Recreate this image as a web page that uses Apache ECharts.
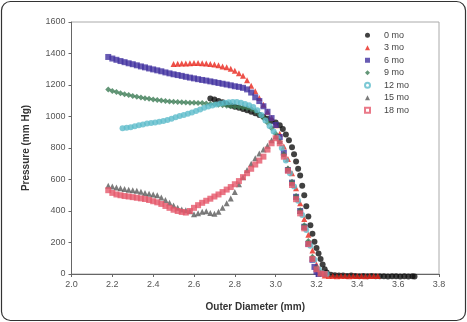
<!DOCTYPE html>
<html>
<head>
<meta charset="utf-8">
<script src="https://cdn.jsdelivr.net/npm/echarts@6/dist/echarts.min.js"></script>
<style>
  html, body { margin: 0; padding: 0; background: #fff; }
  #chart { width: 467px; height: 322px; }
</style>
</head>
<body>
<div id="chart"></div>
<script>
// axis ticks
const xTicks = [2.0, 2.2, 2.4, 2.6, 2.8, 3.0, 3.2, 3.4, 3.6, 3.8];
const yTicks = [0, 200, 400, 600, 800, 1000, 1200, 1400, 1600];

// [outer diameter (mm), pressure (mm Hg)]
const mo0 = [
  [2.68,1115],[2.70,1108],[2.72,1098],[2.74,1090],[2.76,1080],[2.78,1070],[2.80,1062],[2.82,1055],
  [2.84,1048],[2.86,1040],[2.88,1030],[2.90,1020],[2.92,1010],[2.94,998],[2.96,985],[2.98,972],
  [3.00,962],[3.02,945],[3.035,920],[3.05,885],[3.065,850],[3.08,805],[3.09,760],[3.10,715],
  [3.11,668],[3.12,625],[3.13,560],[3.14,500],[3.15,430],[3.16,365],[3.17,310],[3.18,255],
  [3.19,205],[3.20,165],[3.21,130],[3.22,95],[3.23,60],[3.24,30],[3.25,10],[3.27,-5],
  [3.29,-8],[3.31,-10],[3.33,-10],[3.35,-12],[3.37,-10],[3.39,-12],[3.41,-14],[3.43,-12],
  [3.45,-14],[3.47,-12],[3.49,-14],[3.51,-15],[3.53,-14],[3.55,-16],[3.57,-15],[3.59,-14],
  [3.61,-16],[3.63,-15],[3.65,-16],[3.67,-15],[3.68,-16]
];
const mo3 = [
  [2.50,1333],[2.52,1335],[2.54,1336],[2.56,1337],[2.58,1338],[2.60,1339],[2.62,1340],[2.64,1338],
  [2.66,1336],[2.68,1333],[2.70,1330],[2.72,1325],[2.74,1318],[2.76,1312],[2.78,1303],[2.80,1290],
  [2.82,1275],[2.84,1258],[2.86,1230],[2.88,1195],[2.90,1160],[2.92,1118],[2.94,1075],[2.96,1030],
  [2.98,990],[3.00,945],[3.02,890],[3.04,810],[3.06,730],[3.08,640],[3.10,545],[3.12,450],
  [3.14,350],[3.16,250],[3.18,150],[3.20,60],[3.21,25],[3.22,5],[3.24,-10],[3.26,-12],
  [3.28,-12],[3.30,-14],[3.32,-12],[3.34,-12],[3.36,-14],[3.38,-12],[3.40,-13],[3.42,-12],
  [3.44,-14],[3.46,-12],[3.48,-13],[3.50,-12]
];
const mo6 = [
  [2.18,1378],[2.20,1368],[2.22,1360],[2.24,1352],[2.26,1345],[2.28,1338],[2.30,1332],[2.32,1325],
  [2.34,1318],[2.36,1312],[2.38,1305],[2.40,1299],[2.42,1293],[2.44,1287],[2.46,1280],[2.48,1274],
  [2.50,1268],[2.52,1263],[2.54,1258],[2.56,1252],[2.58,1247],[2.60,1242],[2.62,1237],[2.64,1232],
  [2.66,1228],[2.68,1223],[2.70,1218],[2.72,1213],[2.74,1208],[2.76,1203],[2.78,1198],[2.80,1192],
  [2.82,1188],[2.84,1182],[2.86,1172],[2.88,1152],[2.90,1122],[2.92,1098],[2.94,1065],[2.96,1030],
  [2.98,990],[3.00,946],[3.02,870],[3.04,770],[3.06,660],[3.08,580],[3.10,490],[3.12,400],
  [3.14,300],[3.16,190],[3.18,90],[3.19,45],[3.20,15],[3.21,0]
];
const mo9 = [
  [2.18,1172],[2.20,1162],[2.22,1155],[2.24,1148],[2.26,1142],[2.28,1136],[2.30,1130],[2.32,1125],
  [2.34,1120],[2.36,1116],[2.38,1112],[2.40,1108],[2.42,1105],[2.44,1102],[2.46,1099],[2.48,1096],
  [2.50,1094],[2.52,1092],[2.54,1090],[2.56,1089],[2.58,1088],[2.60,1087],[2.62,1086],[2.64,1085],
  [2.66,1083],[2.68,1080],[2.70,1077],[2.72,1074],[2.74,1071],[2.76,1068],[2.78,1065],[2.80,1062],
  [2.82,1060],[2.84,1057],[2.86,1054],[2.88,1048],[2.90,1035],[2.92,1015],[2.94,990],[2.96,960],
  [2.98,925],[3.00,890],[3.02,840],[3.04,760],[3.06,670],[3.08,585],[3.10,495],[3.12,405],
  [3.14,310],[3.16,210],[3.18,110],[3.20,40],[3.22,10],[3.24,0]
];
const mo12 = [
  [2.25,925],[2.27,928],[2.29,932],[2.31,938],[2.33,945],[2.35,950],[2.37,955],[2.39,958],
  [2.41,962],[2.43,966],[2.45,972],[2.47,978],[2.49,985],[2.51,995],[2.53,1003],[2.55,1010],
  [2.57,1018],[2.59,1025],[2.61,1035],[2.63,1045],[2.65,1055],[2.67,1063],[2.69,1070],[2.71,1076],
  [2.73,1082],[2.75,1087],[2.77,1090],[2.79,1092],[2.81,1092],[2.83,1088],[2.85,1080],[2.87,1072],
  [2.89,1060],[2.91,1040],[2.93,1010],[2.95,975],[2.97,940],[2.99,905],[3.01,865],[3.03,800],
  [3.05,720],[3.07,640],[3.09,555],[3.11,465],[3.13,375],[3.15,280],[3.17,180],[3.19,90],
  [3.21,30],[3.23,5],[3.25,0]
];
const mo15 = [
  [2.18,560],[2.20,555],[2.22,550],[2.24,545],[2.26,540],[2.28,535],[2.30,532],[2.32,528],
  [2.34,522],[2.36,515],[2.38,510],[2.40,505],[2.42,500],[2.44,485],[2.46,470],[2.48,452],
  [2.50,435],[2.52,420],[2.54,410],[2.56,405],[2.58,398],[2.60,380],[2.62,385],[2.64,395],
  [2.66,398],[2.68,388],[2.70,382],[2.72,395],[2.74,420],[2.76,450],[2.78,480],[2.80,520],
  [2.82,570],[2.84,615],[2.86,660],[2.88,700],[2.90,735],[2.92,765],[2.94,790],[2.96,815],
  [2.98,850],[3.00,875],[3.02,845],[3.04,760],[3.06,670],[3.08,580],[3.10,490],[3.12,400],
  [3.14,300],[3.16,200],[3.18,100],[3.20,35],[3.22,5],[3.24,0]
];
const mo18 = [
  [2.18,532],[2.20,515],[2.22,505],[2.24,500],[2.26,495],[2.28,492],[2.30,488],[2.32,484],
  [2.34,480],[2.36,476],[2.38,470],[2.40,462],[2.42,455],[2.44,445],[2.46,432],[2.48,420],
  [2.50,408],[2.52,400],[2.54,394],[2.56,390],[2.58,400],[2.60,420],[2.62,437],[2.64,452],
  [2.66,465],[2.68,478],[2.70,492],[2.72,505],[2.74,520],[2.76,536],[2.78,552],[2.80,570],
  [2.82,590],[2.84,615],[2.86,640],[2.88,668],[2.90,695],[2.92,720],[2.94,745],[2.96,790],
  [2.98,830],[3.00,862],[3.02,830],[3.04,745],[3.06,655],[3.08,565],[3.10,475],[3.12,385],
  [3.14,290],[3.16,190],[3.18,95],[3.20,30],[3.22,3],[3.24,0]
];

const seriesNames = ['0 mo', '3 mo', '6 mo', '9 mo', '12 mo', '15 mo', '18 mo'];
const seriesData = [mo0, mo3, mo6, mo9, mo12, mo15, mo18];
const seriesColors = ['#111111', '#e8261c', '#4232a0', '#3c7c55', '#5cbccb', '#5a5a5a', '#e5586a'];
const seriesSymbols = ['circle', 'triangle', 'rect', 'diamond', 'circle', 'triangle', 'rect'];
const legendIcons = ['circle', 'triangle', 'rect', 'diamond', 'emptyCircle', 'triangle', 'emptyRect'];

const font = 'Liberation Sans, Arial, sans-serif';
const chart = echarts.init(document.getElementById('chart'));

// legend entries, open markers get a thin outline
const legendData = seriesNames.map((name, i) => {
  const item = { name: name, icon: legendIcons[i] };
  if (legendIcons[i].indexOf('empty') === 0) {
    item.itemStyle = { borderWidth: 1, borderColor: seriesColors[i] };
  }
  return item;
});

const option = {
  animation: false,
  textStyle: { fontFamily: font },
  // rounded frame round the whole figure
  graphic: [{
    type: 'rect',
    shape: { x: 1.5, y: 1.5, width: 464, height: 319, r: 9 },
    style: { fill: 'none', stroke: '#333', lineWidth: 1.2 },
    silent: true
  }],
  grid: {
    left: 71.5, right: 28, top: 22, bottom: 48,
    show: true, borderColor: '#aaa', borderWidth: 1
  },
  legend: {
    orient: 'vertical',
    left: 359, top: 24,
    itemWidth: 5, itemHeight: 5, itemGap: 0,
    textStyle: { fontSize: 9, color: '#444', lineHeight: 12.5, padding: [0, 0, 0, 9] },
    data: legendData
  },
  xAxis: {
    type: 'value',
    min: xTicks[0], max: xTicks[xTicks.length - 1], interval: 0.2,
    name: 'Outer Diameter (mm)', nameLocation: 'middle', nameGap: 28,
    nameTextStyle: { fontSize: 10, fontWeight: 'bold', color: '#333' },
    axisLine: { lineStyle: { color: '#666' } },
    axisTick: { show: true, length: 3, lineStyle: { color: '#666' } },
    axisLabel: { fontSize: 9, color: '#555', margin: 6, formatter: v => v.toFixed(1) },
    splitLine: { show: false }
  },
  yAxis: {
    type: 'value',
    min: yTicks[0], max: yTicks[yTicks.length - 1], interval: 200,
    name: 'Pressure (mm Hg)', nameLocation: 'middle', nameGap: 40,
    nameTextStyle: { fontSize: 10, fontWeight: 'bold', color: '#333' },
    axisLine: { show: true, lineStyle: { color: '#666' } },
    axisTick: { show: true, length: 3, lineStyle: { color: '#666' } },
    axisLabel: { fontSize: 9, color: '#555', margin: 6, formatter: v => String(v) },
    splitLine: { show: false }
  },
  series: seriesNames.map((name, i) => ({
    name: name,
    type: 'scatter',
    clip: false,
    data: seriesData[i],
    symbol: seriesSymbols[i],
    symbolSize: 6,
    itemStyle: { color: seriesColors[i] }
  }))
};

chart.setOption(option);
</script>
</body>
</html>
